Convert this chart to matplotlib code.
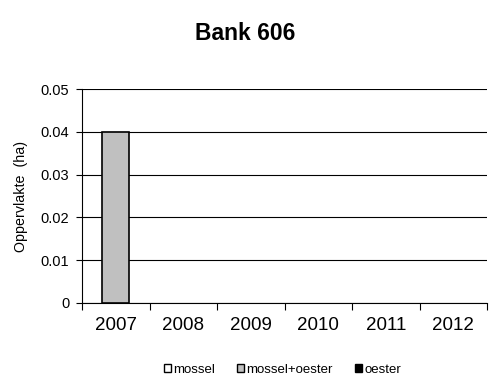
import matplotlib
matplotlib.use("Agg")
import matplotlib.pyplot as plt
from matplotlib.patches import Patch
import numpy as np

years = ["2007", "2008", "2009", "2010", "2011", "2012"]
mossel = [0, 0, 0, 0, 0, 0]
mossel_oester = [0.04, 0, 0, 0, 0, 0]
oester = [0, 0, 0, 0, 0, 0]
series_names = ["mossel", "mossel+oester", "oester"]
colors = ["#FFFFFF", "#C0C0C0", "#000000"]

plt.rcParams['font.family'] = ['Liberation Sans', 'DejaVu Sans']
fig = plt.figure(figsize=(4.91, 3.81), dpi=100)
ax = fig.add_axes([0.167, 0.205, 0.825, 0.561])

x = np.arange(len(years))
bottom = np.zeros(len(years))
for vals, c in zip([mossel, mossel_oester, oester], colors):
    v = np.array(vals)
    mask = v > 0
    ax.bar(x[mask], v[mask], bottom=bottom[mask], width=0.4, color=c,
           edgecolor="black", linewidth=1.2, zorder=3)
    bottom += v

ax.set_xlim(-0.5, len(years) - 0.5)
ax.set_ylim(0, 0.05)
ax.set_yticks([0, 0.01, 0.02, 0.03, 0.04, 0.05])
ax.set_yticklabels(["0", "0.01", "0.02", "0.03", "0.04", "0.05"], fontsize=10.5)
ax.yaxis.grid(True, color="black", linewidth=0.8, zorder=0)
ax.set_xticks(x)
ax.set_xticklabels(years, fontsize=13.5)
ax.set_xticks(np.arange(-0.5, len(years), 1.0), minor=True)
ax.tick_params(axis="x", which="major", length=0, pad=10)
ax.tick_params(axis="x", which="minor", length=5, width=0.8, direction="out")
ax.tick_params(axis="y", length=4, width=0.8, direction="out", pad=5)
for s in ["top", "right"]:
    ax.spines[s].set_visible(False)
ax.spines["left"].set_linewidth(0.8)
ax.spines["bottom"].set_linewidth(0.8)
ax.set_ylabel("Oppervlakte  (ha)", fontsize=10.3, labelpad=9)

fig.text(0.5, 0.913, "Bank 606", ha="center", va="center", fontsize=16.5, fontweight="bold")

handles = [Patch(facecolor=c, edgecolor="black", linewidth=1) for c in colors]
fig.legend(handles, series_names, loc="center", bbox_to_anchor=(0.575, 0.029), ncol=3,
           frameon=False, fontsize=9.5, handlelength=0.55, handleheight=0.55,
           handletextpad=0.15, columnspacing=1.7, borderpad=0, borderaxespad=0)

fig.savefig("out.png", dpi=100)
